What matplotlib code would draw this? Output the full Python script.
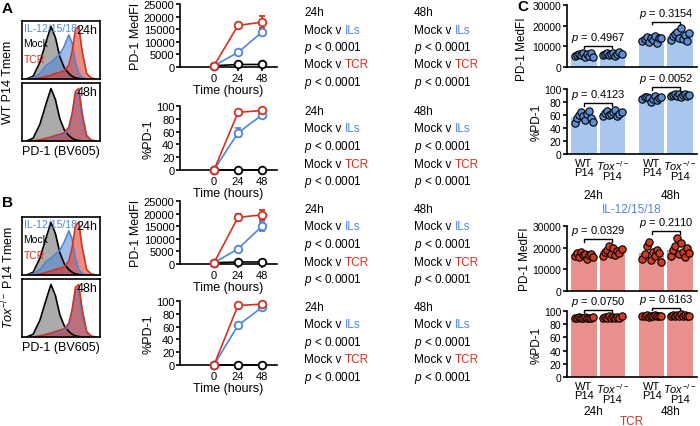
import numpy as np
import matplotlib.pyplot as plt

BLUE = "#4f86d9"
RED = "#d7301f"
LBLUE = "#a9c6ef"
LRED = "#e8908e"

hours = [0, 24, 48]
# panel A (WT) and B (Tox-/-) kinetics
a_mfi = {"Mock": [500, 1000, 1000], "ILs": [500, 5800, 13800], "TCR": [500, 16500, 17800]}
a_mfi_err = {"Mock": [0, 0, 0], "ILs": [0, 500, 1200], "TCR": [0, 700, 2500]}
a_pct = {"Mock": [0, 0, 0], "ILs": [0, 58, 86], "TCR": [0, 90, 93]}
a_pct_err = {"Mock": [0, 0, 0], "ILs": [0, 7, 3], "TCR": [0, 1, 1]}
b_mfi = {"Mock": [500, 800, 800], "ILs": [500, 6000, 15000], "TCR": [500, 18500, 19500]}
b_mfi_err = {"Mock": [0, 0, 0], "ILs": [0, 500, 1800], "TCR": [0, 1500, 2000]}
b_pct = {"Mock": [0, 0, 0], "ILs": [0, 62, 90], "TCR": [0, 93, 95]}
b_pct_err = {"Mock": [0, 0, 0], "ILs": [0, 4, 2], "TCR": [0, 1, 1]}

# histogram shapes (relative counts on log PD-1 bins)
hist_x = [2.0, 2.3, 2.6, 2.9, 3.1, 3.3, 3.5, 3.7, 3.9, 4.05, 4.2, 4.35, 4.5, 4.7, 4.9, 5.1]
h_mock = [0, 0.05, 0.3, 0.7, 0.95, 0.75, 0.4, 0.2, 0.1, 0.05, 0.02, 0.01, 0, 0, 0, 0]
h_ils24 = [0, 0.02, 0.1, 0.25, 0.3, 0.38, 0.45, 0.6, 0.8, 0.65, 0.3, 0.1, 0.03, 0, 0, 0]
h_tcr = [0, 0, 0.02, 0.05, 0.07, 0.1, 0.12, 0.15, 0.25, 0.5, 0.9, 0.95, 0.5, 0.1, 0.02, 0]
h_ils48 = [0, 0, 0.02, 0.05, 0.06, 0.08, 0.1, 0.12, 0.2, 0.45, 0.85, 0.85, 0.4, 0.08, 0.01, 0]

# panel C
c_il_mfi = [[5200, 6000, 6500, 5800, 7000, 4800, 6200, 5500, 6800, 5000],
            [6000, 6500, 7000, 5800, 6200, 6800, 5500, 6400, 7200, 6100],
            [12500, 13500, 14500, 12000, 14000, 13000, 15000, 11500, 13800, 14200],
            [13000, 15000, 16000, 17000, 14000, 19000, 13500, 15500, 12500, 16500]]
c_il_pct = [[48, 55, 60, 65, 58, 52, 62, 66, 56, 50],
            [58, 63, 66, 60, 62, 64, 68, 59, 61, 65],
            [84, 87, 88, 86, 80, 85, 89, 83, 86, 88],
            [89, 91, 92, 90, 93, 88, 91, 92, 90, 91]]
c_tcr_mfi = [[16000, 17500, 15500, 18000, 16500, 17000, 15000, 16800, 17200, 15800],
             [16000, 18000, 19000, 21000, 17000, 20000, 16500, 18500, 17500, 19500],
             [15000, 17000, 21000, 22500, 14500, 18000, 16000, 19000, 17500, 13500],
             [16000, 19000, 21000, 24500, 17000, 22000, 18000, 15500, 20000, 17500]]
c_tcr_pct = [[89, 90, 91, 90, 89, 91, 90, 89, 90, 91],
             [90, 91, 90, 92, 89, 91, 90, 91, 90, 92],
             [92, 93, 94, 91, 93, 92, 94, 93, 92, 93],
             [93, 94, 92, 94, 93, 95, 93, 94, 92, 93]]
c_p = {"il_mfi": ["0.4967", "0.3154"], "il_pct": ["0.4123", "0.0052"],
       "tcr_mfi": ["0.0329", "0.2110"], "tcr_pct": ["0.0750", "0.6163"]}
c_labels = ["WT\nP14", "$\\it{Tox}^{-/-}$\nP14", "WT\nP14", "$\\it{Tox}^{-/-}$\nP14"]

plt.rcParams["font.family"] = ["Liberation Sans", "DejaVu Sans"]
plt.rcParams["mathtext.fontset"] = "custom"
plt.rcParams["mathtext.it"] = "Liberation Sans:italic"
plt.rcParams["mathtext.rm"] = "Liberation Sans"
plt.rcParams["font.size"] = 8
fig = plt.figure(figsize=(7, 4.27), dpi=100)


def px(x0, y0, x1, y1):
    return fig.add_axes([x0 / 700, 1 - y1 / 427, (x1 - x0) / 700, (y1 - y0) / 427])


def fy(y):
    return 1 - y / 427


def style(ax, size=8):
    ax.spines[["top", "right"]].set_visible(False)
    ax.spines[["left", "bottom"]].set_linewidth(1.2)
    ax.tick_params(width=1.2, length=3, labelsize=size, pad=1)


def hist(ax, curves, label, legend):
    for h, fc, ec in curves:
        ax.fill_between(hist_x, h, color=fc, alpha=0.55, lw=0)
        ax.plot(hist_x, h, color=ec, lw=1.2)
    ax.set_xlim(1.8, 5.3)
    ax.set_ylim(0, 1.05)
    ax.set_xticks([])
    ax.set_yticks([])
    for s in ax.spines.values():
        s.set_linewidth(1.2)
    ax.text(0.97, 0.95, label, transform=ax.transAxes, ha="right", va="top", fontsize=9)
    if legend:
        for i, (t, c) in enumerate([("IL-12/15/18", BLUE), ("Mock", "black"), ("TCR", RED)]):
            ax.text(0.02, 0.97 - i * 0.27, t, color=c, transform=ax.transAxes, va="top", fontsize=7.5)


def kinetics(ax, data, err, ymax, yticks, ylabel):
    for k, c in [("Mock", "black"), ("ILs", BLUE), ("TCR", RED)]:
        ax.errorbar(hours, data[k], yerr=err[k], color=c, marker="o", mfc="white", mec=c,
                    ms=5.5, mew=1.3, lw=1.2, capsize=2.5, zorder=3, clip_on=False)
    ax.set_xlim(-34, 63)
    ax.set_ylim(0, ymax)
    ax.set_xticks(hours)
    ax.set_yticks(yticks)
    ax.set_ylabel(ylabel, fontsize=9, labelpad=1)
    ax.set_xlabel("Time (hours)", fontsize=9, labelpad=1)
    style(ax)


def stats_col(x, y, head):
    fig.text(x / 700, fy(y), head, fontsize=8.5, va="baseline")
    rows = [("Mock v ", "ILs", BLUE), None, ("Mock v ", "TCR", RED), None]
    for i, r in enumerate(rows):
        yy = fy(y + 17.5 * (i + 1))
        if r is None:
            fig.text(x / 700, yy, "$p$ < 0.0001", fontsize=8.5, va="baseline")
        else:
            t = fig.text(x / 700, yy, r[0], fontsize=8.5, va="baseline")
            fig.add_artist(plt.Annotation(r[1], xy=(1, 0), xycoords=t, va="bottom",
                                          color=r[2], fontsize=8.5))


def panel_c(ax, vals, light, dark, ymax, yticks, ylabel, pvals, xlabels):
    pos = [0, 1, 2.4, 3.4]
    means = [np.mean(v) for v in vals]
    ax.bar(pos, means, width=0.9, color=light)
    for p, v in zip(pos, vals):
        xs = p + np.linspace(-0.33, 0.33, len(v))
        ax.scatter(xs, v, s=28, color=dark, ec="black", lw=0.8, zorder=3, clip_on=False)
    for j, pv in enumerate(pvals):
        x0, x1 = pos[2 * j], pos[2 * j + 1]
        top = max(max(vals[2 * j]), max(vals[2 * j + 1])) + ymax * 0.1
        ax.plot([x0, x0, x1, x1], [top - ymax * 0.04, top, top, top - ymax * 0.04],
                color="black", lw=1, clip_on=False)
        ax.text((x0 + x1) / 2, top + ymax * 0.03, "$p$ = " + pv, ha="center", va="bottom", fontsize=8)
    ax.set_xlim(-0.6, 4.0)
    ax.set_ylim(0, ymax)
    ax.set_yticks(yticks)
    ax.set_ylabel(ylabel, fontsize=8.5, labelpad=1)
    style(ax, 7.5)
    if xlabels:
        ax.set_xticks(pos)
        ax.set_xticklabels(c_labels, fontsize=8, linespacing=0.9)
        ax.tick_params(axis="x", length=0, pad=3)
    else:
        ax.set_xticks([])
    return ax


# panel letters
for x, y, l in [(2, 2, "A"), (2, 196, "B"), (517, 0, "C")]:
    fig.text(x / 700, fy(y), l, fontsize=11, fontweight="bold", va="top")

# histograms
hist(px(22, 22, 100, 80), [(h_mock, "#666666", "black"), (h_ils24, BLUE, BLUE), (h_tcr, RED, RED)], "24h", True)
ax = px(22, 84, 100, 142)
hist(ax, [(h_mock, "#666666", "black"), (h_ils48, BLUE, BLUE), (h_tcr, RED, RED)], "48h", False)
ax.set_xlabel("PD-1 (BV605)", fontsize=9, labelpad=3)
fig.text(8 / 700, fy(82), "WT P14 Tmem", rotation=90, va="center", ha="center", fontsize=9)

hist(px(22, 218, 100, 276), [(h_mock, "#666666", "black"), (h_ils24, BLUE, BLUE), (h_tcr, RED, RED)], "24h", True)
ax = px(22, 280, 100, 338)
hist(ax, [(h_mock, "#666666", "black"), (h_ils48, BLUE, BLUE), (h_tcr, RED, RED)], "48h", False)
ax.set_xlabel("PD-1 (BV605)", fontsize=9, labelpad=3)
fig.text(8 / 700, fy(278), "$\\it{Tox}^{-/-}$ P14 Tmem", rotation=90, va="center", ha="center", fontsize=9)

# kinetics
kinetics(px(180, 5, 277, 68), a_mfi, a_mfi_err, 25000, range(0, 25001, 5000), "PD-1 MedFI")
kinetics(px(180, 107, 277, 171), a_pct, a_pct_err, 100, range(0, 101, 20), "%PD-1")
kinetics(px(180, 202, 277, 265), b_mfi, b_mfi_err, 25000, range(0, 25001, 5000), "PD-1 MedFI")
kinetics(px(180, 302, 277, 366), b_pct, b_pct_err, 100, range(0, 101, 20), "%PD-1")

for y in [16, 115, 213, 311]:
    stats_col(304, y, "24h")
    stats_col(414, y, "48h")

# panel C
ax = panel_c(px(567, 6, 697, 68), c_il_mfi, LBLUE, "#5a8fd8", 30000, range(0, 30001, 10000),
             "PD-1 MedFI", c_p["il_mfi"], False)
ax.yaxis.set_label_coords(-0.3, 0.3)
panel_c(px(567, 90, 697, 155), c_il_pct, LBLUE, "#5a8fd8", 100, range(0, 101, 20),
        "%PD-1", c_p["il_pct"], True)
fig.text(593 / 700, fy(196), "24h", ha="center", va="center", fontsize=8.5)
fig.text(671 / 700, fy(196), "48h", ha="center", va="center", fontsize=8.5)
fig.text(632 / 700, fy(210), "IL-12/15/18", ha="center", va="center", fontsize=8.5, color=BLUE)

panel_c(px(567, 227, 697, 292), c_tcr_mfi, LRED, "#d23a22", 30000, range(0, 30001, 10000),
        "PD-1 MedFI", c_p["tcr_mfi"], False)
panel_c(px(567, 312, 697, 378), c_tcr_pct, LRED, "#d23a22", 100, range(0, 101, 20),
        "%PD-1", c_p["tcr_pct"], True)
fig.text(593 / 700, fy(412), "24h", ha="center", va="center", fontsize=8.5)
fig.text(671 / 700, fy(412), "48h", ha="center", va="center", fontsize=8.5)
fig.text(632 / 700, fy(422.5), "TCR", ha="center", va="center", fontsize=8.5, color=RED)

fig.savefig("out.png", dpi=100)
